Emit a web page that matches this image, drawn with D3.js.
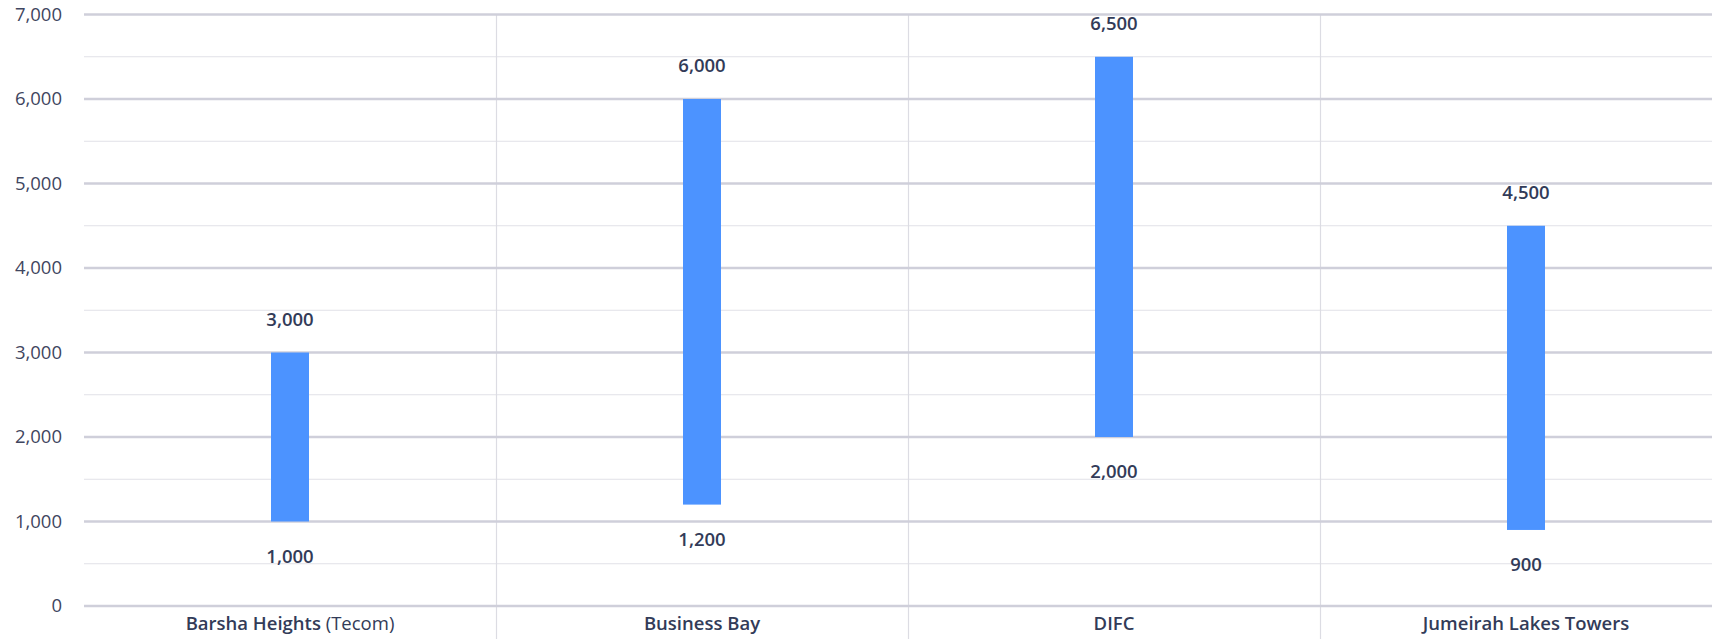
<!DOCTYPE html>
<html>
<head>
<meta charset="utf-8">
<script src="https://cdn.jsdelivr.net/npm/d3@7"></script>
<style>
  html, body { margin: 0; padding: 0; background: #ffffff; }
  svg { display: block; font-family: "Open Sans", "Noto Sans", sans-serif; }
</style>
</head>
<body>
<svg id="chart" width="1712" height="639"></svg>
<script>
// Office rent ranges by district
const districts = ["Barsha Heights", "Business Bay", "DIFC", "Jumeirah Lakes Towers"];
const districtNotes = ["(Tecom)", "", "", ""];
const lowValues = [1000, 1200, 2000, 900];
const highValues = [3000, 6000, 6500, 4500];
const majorTicks = [0, 1000, 2000, 3000, 4000, 5000, 6000, 7000];
const minorTicks = [500, 1500, 2500, 3500, 4500, 5500, 6500];

const svg = d3.select("#chart");
const W = 1712, H = 639;
const margin = { left: 84, top: 14.5, bottom: 606 };
const plotRight = 1732; // last band runs past the visible edge

const x = d3.scaleBand().domain(districts).range([margin.left, plotRight]);
const y = d3.scaleLinear().domain([0, 7000]).range([margin.bottom, margin.top]);
const fmt = d3.format(",");

svg.append("defs").append("clipPath").attr("id", "vis")
  .append("rect").attr("x", 0).attr("y", 0).attr("width", W).attr("height", H);

const g = svg.append("g").attr("clip-path", "url(#vis)");

// minor gridlines
g.append("g").selectAll("line").data(minorTicks).join("line")
  .attr("x1", margin.left).attr("x2", plotRight)
  .attr("y1", d => y(d)).attr("y2", d => y(d))
  .attr("stroke", "#e1e1e7").attr("stroke-width", 1);

// category separators
g.append("g").selectAll("line").data(districts.slice(1)).join("line")
  .attr("x1", d => Math.round(x(d)) + 0.5).attr("x2", d => Math.round(x(d)) + 0.5)
  .attr("y1", y(7000)).attr("y2", H)
  .attr("stroke", "#dcdce3").attr("stroke-width", 1.2);

// major gridlines
g.append("g").selectAll("line").data(majorTicks).join("line")
  .attr("x1", margin.left).attr("x2", plotRight)
  .attr("y1", d => y(d)).attr("y2", d => y(d))
  .attr("stroke", "#cfcfda").attr("stroke-width", 2.4);

// y-axis labels
const yAxis = d3.axisLeft(y).tickValues(majorTicks).tickFormat(fmt).tickSize(0).tickPadding(22);
const ya = svg.append("g").attr("transform", `translate(${margin.left},0)`).call(yAxis);
ya.select(".domain").remove();
ya.selectAll("text")
  .attr("font-family", "'Open Sans', sans-serif")
  .attr("font-size", 18.5).attr("fill", "#3f4660");

// range bars
const barW = 38;
const rows = districts.map((d, i) => ({ d, lo: lowValues[i], hi: highValues[i], note: districtNotes[i] }));
g.append("g").selectAll("rect").data(rows).join("rect")
  .attr("x", r => x(r.d) + x.bandwidth() / 2 - barW / 2)
  .attr("width", barW)
  .attr("y", r => y(r.hi))
  .attr("height", r => y(r.lo) - y(r.hi))
  .attr("fill", "#4c93ff");

// value labels
const labels = g.append("g")
  .attr("font-size", 18.5).attr("font-weight", 600).attr("fill", "#323b58")
  .attr("text-anchor", "middle");
labels.selectAll("text.hi").data(rows).join("text").attr("class", "hi")
  .attr("x", r => x(r.d) + x.bandwidth() / 2)
  .attr("y", r => y(r.hi) - 33).attr("dy", "0.35em")
  .text(r => fmt(r.hi));
labels.selectAll("text.lo").data(rows).join("text").attr("class", "lo")
  .attr("x", r => x(r.d) + x.bandwidth() / 2)
  .attr("y", r => y(r.lo) + 35).attr("dy", "0.35em")
  .text(r => fmt(r.lo));

// category labels
const cat = g.append("g")
  .attr("font-size", 18.5).attr("fill", "#323b58").attr("text-anchor", "middle");
const ct = cat.selectAll("text").data(rows).join("text")
  .attr("x", r => x(r.d) + x.bandwidth() / 2)
  .attr("y", 624).attr("dy", "0.35em");
ct.append("tspan").attr("font-weight", 600).text(r => r.d);
ct.filter(r => r.note).append("tspan").attr("font-weight", 400).text(r => " " + r.note);
</script>
</body>
</html>
